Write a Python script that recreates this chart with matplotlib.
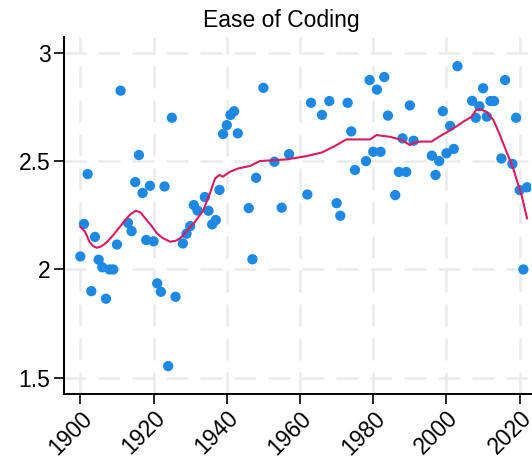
import matplotlib
matplotlib.use("Agg")
import matplotlib.pyplot as plt
from matplotlib.ticker import FuncFormatter

years = [1900, 1901, 1902, 1903, 1904, 1905, 1906, 1907, 1908, 1909, 1910, 1911,
         1913, 1914, 1915, 1916, 1917, 1918, 1919, 1920, 1921, 1922, 1923, 1924,
         1925, 1926, 1928, 1929, 1930, 1931, 1932, 1934, 1935, 1936, 1937, 1938,
         1939, 1940, 1941, 1942, 1943, 1946, 1947, 1948, 1950, 1953, 1955, 1957,
         1962, 1963, 1966, 1968, 1970, 1971, 1973, 1974, 1975, 1978, 1979, 1980,
         1981, 1982, 1983, 1984, 1986, 1987, 1988, 1989, 1990, 1991, 1996, 1997,
         1998, 1999, 2000, 2001, 2002, 2003, 2007, 2008, 2009, 2010, 2011, 2012,
         2013, 2015, 2016, 2018, 2019, 2020, 2021, 2022]
ease = [2.06, 2.21, 2.44, 1.90, 2.15, 2.045, 2.01, 1.865, 2.0, 2.0, 2.115, 2.825,
        2.215, 2.177, 2.403, 2.528, 2.353, 2.136, 2.386, 2.13, 1.936, 1.897, 2.383, 1.554,
        2.70, 1.874, 2.12, 2.165, 2.20, 2.297, 2.272, 2.334, 2.271, 2.208, 2.228, 2.367,
        2.625, 2.666, 2.713, 2.73, 2.628, 2.283, 2.047, 2.423, 2.838, 2.497, 2.285, 2.532,
        2.346, 2.769, 2.713, 2.777, 2.306, 2.248, 2.769, 2.637, 2.459, 2.50, 2.874, 2.543,
        2.83, 2.543, 2.888, 2.71, 2.343, 2.45, 2.605, 2.45, 2.757, 2.594, 2.525, 2.436,
        2.50, 2.73, 2.536, 2.662, 2.556, 2.938, 2.778, 2.70, 2.753, 2.836, 2.705, 2.777,
        2.777, 2.512, 2.874, 2.487, 2.70, 2.366, 2.0, 2.379]

smooth_years = [1900, 1901.3, 1902.5, 1903.5, 1904.5, 1905.5, 1906.3, 1907.5, 1909,
                1910.5, 1912.2, 1913.7, 1915.2, 1916.5, 1918.1, 1919.5, 1920.9, 1922.5,
                1924.5, 1926, 1927.2, 1928.5, 1930, 1931, 1933.5, 1935.4, 1936.8, 1938,
                1938.9, 1940.9, 1943.1, 1946.3, 1949, 1956.4, 1961.8, 1966, 1969.1,
                1972.7, 1974.5, 1979.1, 1980.9, 1984.6, 1987.8, 1990, 1991.1, 1992.7,
                1995.9, 1998.2, 2000.4, 2002.7, 2004.6, 2006.9, 2008.1, 2009.1, 2010.9,
                2012.8, 2014.6, 2016.4, 2018.2, 2019.6, 2020.5, 2022]
smooth_vals = [2.197, 2.174, 2.128, 2.108, 2.10, 2.105, 2.113, 2.13, 2.159,
               2.19, 2.227, 2.255, 2.271, 2.262, 2.228, 2.20, 2.167, 2.145,
               2.128, 2.132, 2.143, 2.165, 2.197, 2.213, 2.27, 2.351, 2.42, 2.436,
               2.428, 2.451, 2.466, 2.477, 2.50, 2.508, 2.523, 2.54, 2.566,
               2.60, 2.60, 2.60, 2.62, 2.612, 2.597, 2.574, 2.585, 2.59,
               2.59, 2.615, 2.636, 2.66, 2.682, 2.705, 2.736, 2.739, 2.728,
               2.69, 2.62, 2.543, 2.467, 2.39, 2.343, 2.236]

y_ticks = [1.5, 2, 2.5, 3]
x_ticks = [1900, 1920, 1940, 1960, 1980, 2000, 2020]
title = "Ease of Coding"

plt.rcParams['font.family'] = ['Liberation Sans', 'DejaVu Sans']

fig = plt.figure(figsize=(5.32, 4.61), dpi=100)
ax = fig.add_axes([0.1209, 0.1447, 0.998 - 0.1209, 0.9204 - 0.1447])

grid_kw = dict(color='#ebebeb', lw=1.8, linestyle=(0, (8.8, 4.8)))
ax.grid(True, **grid_kw)
ax.set_axisbelow(True)

ax.scatter(years, ease, s=55, color='#1E88E5', edgecolors='none', zorder=3)
ax.plot(smooth_years, smooth_vals, color='#D81B60', lw=1.5, zorder=4)

ax.set_xlim(1895.63, 2023.06)
ax.set_ylim(1.424, 3.074)
ax.set_xticks(x_ticks)
ax.set_yticks(y_ticks)
ax.yaxis.set_major_formatter(FuncFormatter(lambda v, p: f"{v:g}"))

for s in ['top', 'right']:
    ax.spines[s].set_visible(False)
for s in ['left', 'bottom']:
    ax.spines[s].set_linewidth(1.4)
    ax.spines[s].set_color('black')

ax.tick_params(axis='both', length=7, width=1.2, color='black', labelsize=16.5, pad=3)
ax.tick_params(axis='x', pad=2)
for lab in ax.get_xticklabels():
    lab.set_rotation(45)
    lab.set_ha('right')
    lab.set_va('top')
    lab.set_rotation_mode('anchor')

ax.set_title(title, fontsize=16.5, pad=7, x=0.4643)

fig.savefig('out.png', dpi=100)
